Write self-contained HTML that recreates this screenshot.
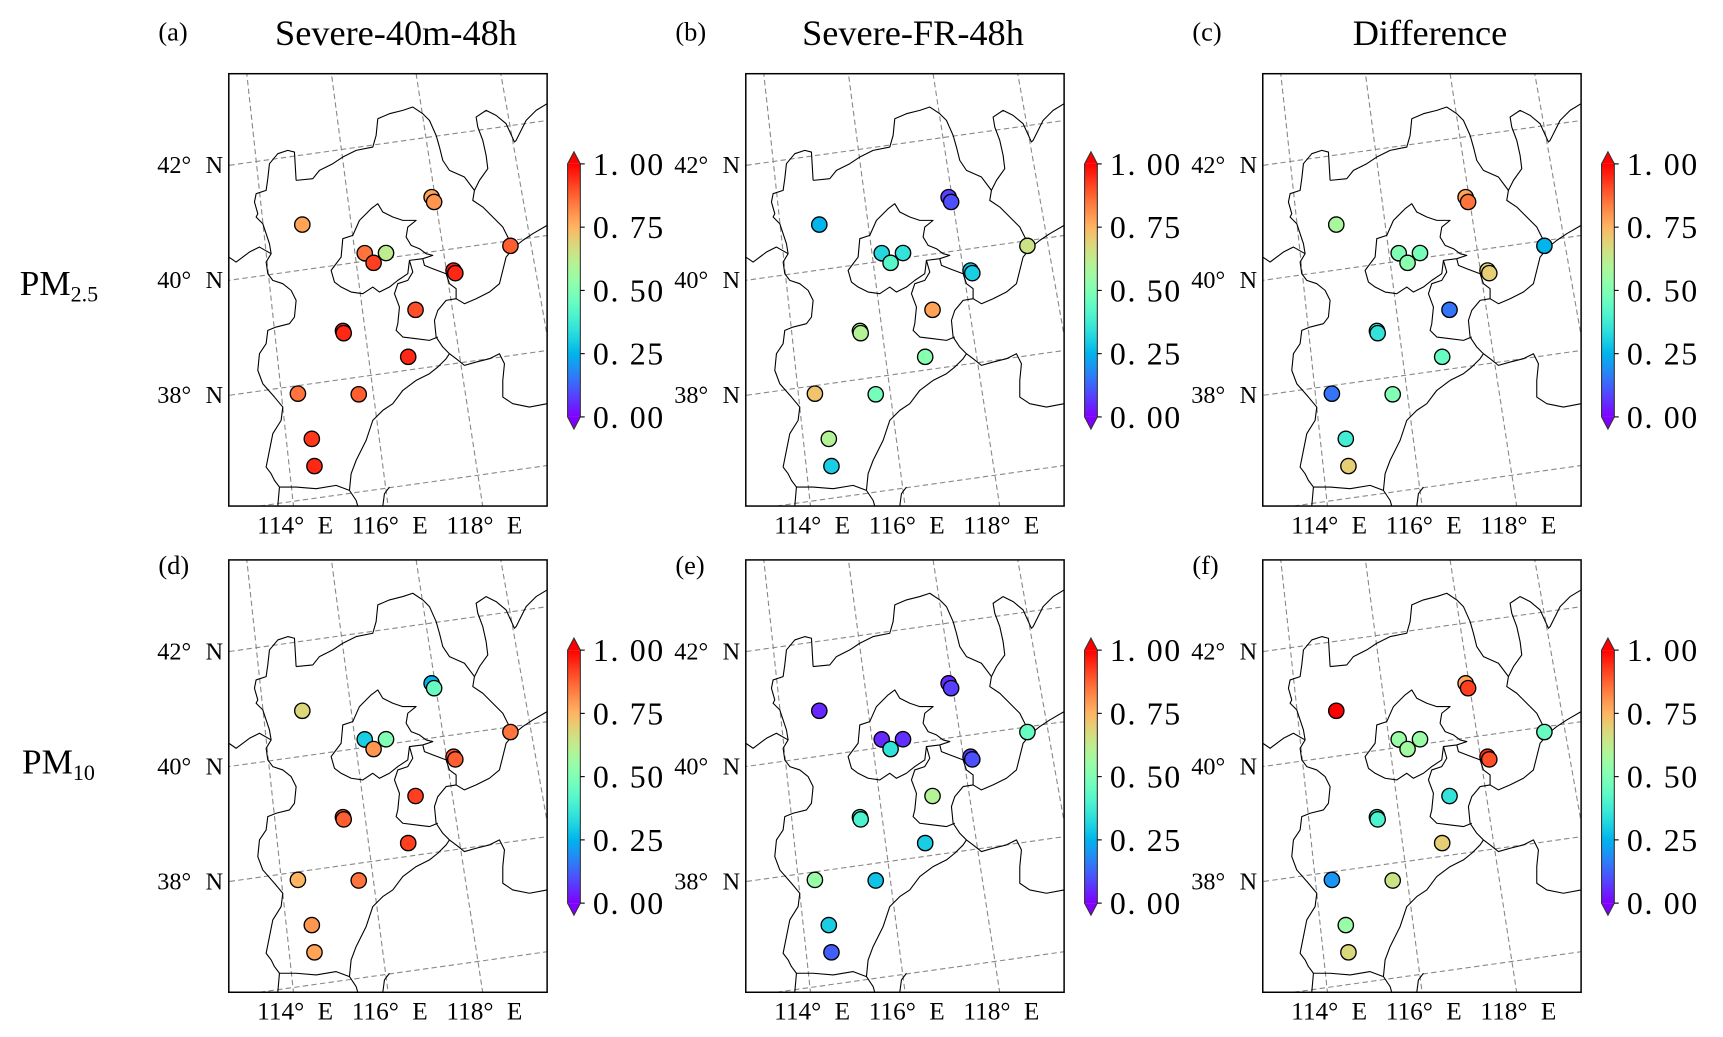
<!DOCTYPE html>
<html><head><meta charset="utf-8">
<style>
html,body{margin:0;padding:0;background:#fff;overflow:hidden;width:1723px;height:1037px;}
svg{display:block;}
text{font-family:"Liberation Serif","Times New Roman",serif;fill:#000;}
</style></head>
<body>
<svg id="fig" width="1723" height="1037" viewBox="0 0 1566.4 942.7" preserveAspectRatio="none" xmlns="http://www.w3.org/2000/svg">
<defs>
<clipPath id="mapclip"><rect x="38" y="60" width="955" height="1297"/></clipPath>
<linearGradient id="rainbow" x1="0" y1="1" x2="0" y2="0"></linearGradient>
<g id="bounds" fill="none" stroke="#000" stroke-width="3.3" stroke-linejoin="round">
<path d="M165,600 L130,580 L100,595 L60,625 L38,610"/>
<path d="M240,380 L235,295 L215,290 L185,300 L160,330 L155,375 L150,410 L120,420 L115,445 L125,480 L120,490 L140,510 L150,540 L160,570 L165,600 L150,625 L155,660 L170,680 L200,690 L225,710 L240,740 L235,790 L220,810 L180,820 L155,830 L150,870 L130,900 L125,950 L140,990 L175,1030 L200,1060 L195,1100 L170,1140 L160,1190 L150,1240 L165,1260 L175,1280 L190,1300 L240,1300 L300,1305 L360,1295 L400,1310 L420,1340 L425,1357"/>
<path d="M190,1300 L185,1357"/>
<path d="M400,1310 L405,1260 L420,1220 L450,1160 L470,1100 L500,1070 L530,1050 L560,1010 L600,980 L640,960 L665,940 L690,915 L700,900"/>
<path d="M700,900 L720,915 L745,935 L780,925 L820,915 L850,900 L865,930 L860,980 L860,1030 L890,1050 L940,1060 L993,1050"/>
<path d="M700,900 L680,880 L660,850 L655,800 L665,770 L690,740 L720,735 L745,750 L780,735 L820,715 L850,690 L860,650 L870,610 L895,580 L920,560 L950,540 L993,515"/>
<path d="M880,560 L860,520 L830,490 L800,460 L770,440 L775,410 L790,380 L815,345 L810,305 L800,260 L785,220 L780,190 L810,170 L840,185 L870,210 L895,265 L900,260 L930,200 L960,170 L993,150"/>
<path d="M240,380 L290,375 L310,350 L350,330 L380,310 L420,290 L470,280 L480,245 L485,195 L520,180 L560,170 L590,160 L620,180 L640,200 L660,245 L670,280 L680,320 L700,350 L745,370 L775,410"/>
<path d="M345,650 L375,610 L380,555 L410,545 L430,500 L465,465 L485,450 L500,475 L530,490 L560,500 L600,500 L575,520 L570,550 L585,575 L610,585 L630,600 L650,605 L620,615 L580,620 L575,660 L545,680 L520,700 L490,715 L470,700 L440,720 L405,715 L375,700 L355,685 Z"/>
<path d="M580,620 L590,655 L575,680 L545,690 L535,720 L550,760 L545,810 L540,830 L560,850 L600,855 L640,860 L665,850"/>
<path d="M620,615 L625,635 L650,645 L690,660 L700,690 L720,705 L720,735"/>
<path d="M500,1357 L505,1320 L520,1300"/>
</g>
</defs>
<g id="content"></g>
</svg>
<script>
// ---- data ----
const stationNames = ["zhangjiakou","chengde-1","chengde-2","beijing-1","beijing-2","beijing-3","qinhuangdao","tangshan-1","tangshan-2","langfang","baoding-1","baoding-2","cangzhou","shijiazhuang","hengshui","xingtai","handan"];
const stationLon = [114.89,117.92,117.96,116.22,116.70,116.39,119.53,118.16,118.19,117.18,115.51,115.52,116.87,114.36,115.68,114.55,114.54];
const stationLat = [40.79,40.95,40.86,40.14,40.09,39.95,39.91,39.62,39.57,39.03,38.84,38.80,38.23,37.86,37.70,37.04,36.56];
const valuesA = [0.78,0.78,0.80,0.85,0.62,0.92,0.88,0.97,0.95,0.90,0.95,0.95,0.95,0.85,0.88,0.93,0.95];
const valuesB = [0.25,0.08,0.10,0.32,0.35,0.42,0.65,0.28,0.30,0.78,0.60,0.60,0.52,0.72,0.48,0.60,0.30];
const valuesC = [0.58,0.78,0.85,0.50,0.48,0.52,0.25,0.68,0.70,0.15,0.35,0.35,0.45,0.15,0.50,0.38,0.70];
const valuesD = [0.68,0.25,0.45,0.30,0.50,0.80,0.85,0.90,0.88,0.92,0.88,0.88,0.92,0.75,0.85,0.80,0.78];
const valuesE = [0.05,0.05,0.08,0.05,0.06,0.35,0.45,0.08,0.10,0.60,0.40,0.40,0.30,0.55,0.28,0.30,0.12];
const valuesF = [1.00,0.78,0.92,0.55,0.55,0.57,0.45,0.95,0.90,0.35,0.38,0.40,0.70,0.20,0.65,0.55,0.68];
const lonTicks = [114,116,118];
const latTicks = [42,40,38];
const cbTicks = [1.00,0.75,0.50,0.25,0.00];
const panelLetters = ["(a)","(b)","(c)","(d)","(e)","(f)"];
const colTitles = ["Severe-40m-48h","Severe-FR-48h","Difference"];

const NS="http://www.w3.org/2000/svg";
function mk(tag,attrs,parent){const e=document.createElementNS(NS,tag);for(const k in attrs)e.setAttribute(k,attrs[k]);if(parent)parent.appendChild(e);return e;}
function rainbow(v){v=Math.max(0,Math.min(1,v));const r=Math.min(1,Math.abs(2*v-0.5)),g=Math.sin(Math.PI*v),b=Math.cos(Math.PI*v/2);return `rgb(${Math.round(r*255)},${Math.round(g*255)},${Math.round(b*255)})`;}
function proj(lon,lat){let y=335+172.5*(42-lat),x=0;for(let i=0;i<5;i++){const s=0.108+0.0115*(lon-114);x=92+127*(lon-114)+s*(y-60);y=335+172.5*(42-lat)-0.141*(x-38);}return [x,y];}
const S=1/3.3;

const grad=document.getElementById('rainbow');
for(let i=0;i<=20;i++){mk('stop',{offset:(i/20),'stop-color':rainbow(i/20)},grad);}

const root=document.getElementById('content');
const panels=[];
const cols=[208,678,1148], rows=[67,509];
const allVals=[valuesA,valuesB,valuesC,valuesD,valuesE,valuesF];
for(let r=0;r<2;r++)for(let c=0;c<3;c++)panels.push({x:cols[c],y:rows[r],r,c,vals:allVals[r*3+c],k:r*3+c});

colTitles.forEach((t,c)=>{const e=mk('text',{x:cols[c]+152,y:41,'font-size':33,'text-anchor':'middle'},root);e.textContent=t;

});
const pm25=mk('text',{x:18,y:268,'font-size':32},root);pm25.innerHTML='PM<tspan font-size="20" dy="6">2.5</tspan>';


const pm10=mk('text',{x:20,y:703,'font-size':32},root);pm10.innerHTML='PM<tspan font-size="20" dy="6">10</tspan>';



panels.forEach(p=>{
  const g=mk('g',{},root);
  
  
  const lt=mk('text',{x:p.x-64,y:p.r===0?p.y-30:p.y+13,'font-size':24},g);lt.textContent=panelLetters[p.k];
  
  
  const mg=mk('g',{transform:`translate(${p.x},${p.y}) scale(${S}) translate(-38,-60)`},g);
  const cg=mk('g',{'clip-path':'url(#mapclip)'},mg);
  for(let lon=110;lon<=124;lon+=2){let d='';for(let lat=33;lat<=46;lat+=0.5){const [x,y]=proj(lon,lat);d+=(d?'L':'M')+x.toFixed(1)+','+y.toFixed(1);}
    const l=mk('path',{d,fill:'none',stroke:'#888','stroke-width':3.3,'stroke-dasharray':'16 10'},cg);
    
    }
  for(let lat=34;lat<=46;lat+=2){let d='';for(let lon=108;lon<=126;lon+=0.5){const [x,y]=proj(lon,lat);d+=(d?'L':'M')+x.toFixed(1)+','+y.toFixed(1);}
    const l=mk('path',{d,fill:'none',stroke:'#888','stroke-width':3.3,'stroke-dasharray':'16 10'},cg);
    
    }
  const u=mk('use',{href:'#bounds'},cg);
  
  
  stationLon.forEach((lon,i)=>{const [x,y]=proj(lon,stationLat[i]);
    const ci=mk('circle',{cx:x,cy:y,r:23,fill:rainbow(p.vals[i]),stroke:'#000','stroke-width':4},cg);
    
    });
  const fr=mk('rect',{x:38,y:60,width:955,height:1297,fill:'none',stroke:'#000','stroke-width':4.5},mg);
  
  
  latTicks.forEach(lat=>{const yy=p.y+(335+172.5*(42-lat)-60)*S;
    const t=mk('text',{x:p.x-65,y:yy+7,'font-size':22},g);t.textContent=lat+'°';
    
    
    const n=mk('text',{x:p.x-21,y:yy+7,'font-size':22},g);n.textContent='N';
    
    });
  lonTicks.forEach(lon=>{const s=0.108+0.0115*(lon-114);const xb=92+127*(lon-114)+s*(1357-60);const xx=p.x+(xb-38)*S;
    const t=mk('text',{x:xx-33,y:p.y+418,'font-size':23},g);t.textContent=lon+'°';
    
    
    const e=mk('text',{x:xx+22,y:p.y+418,'font-size':23},g);e.textContent='E';
    
    });
  const bx=p.x+308,bw=11.6,bt=p.y+82,bb=p.y+312;
  const cb=mk('g',{},g);
  
  
  mk('rect',{x:bx,y:bt,width:bw,height:bb-bt,fill:'url(#rainbow)'},cb);
  mk('path',{d:`M${bx},${bt} L${bx+bw/2},${bt-11} L${bx+bw},${bt} Z`,fill:rainbow(1)},cb);
  mk('path',{d:`M${bx},${bb} L${bx+bw/2},${bb+11} L${bx+bw},${bb} Z`,fill:rainbow(0)},cb);
  mk('path',{d:`M${bx},${bt} L${bx+bw/2},${bt-11} L${bx+bw},${bt} L${bx+bw},${bb} L${bx+bw/2},${bb+11} L${bx},${bb} Z`,fill:'none',stroke:'#333','stroke-width':1},cb);
  cbTicks.forEach(v=>{const y=bb-(bb-bt)*v;
    mk('line',{x1:bx+bw,x2:bx+bw+4,y1:y,y2:y,stroke:'#000','stroke-width':1},cb);
    const t=mk('text',{x:bx+23,y:y+10,'font-size':29,'letter-spacing':'1.5'},cb);t.textContent=v.toFixed(2).replace('.','. ');
    
    });
});
</script>
</body></html>
